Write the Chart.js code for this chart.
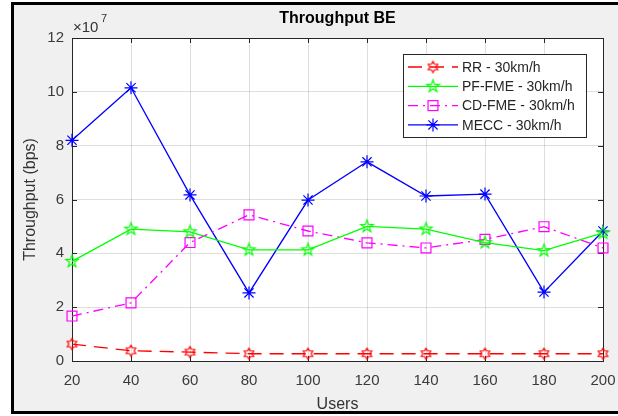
<!DOCTYPE html>
<html>
<head>
<meta charset="utf-8">
<script src="https://cdn.jsdelivr.net/npm/chart.js@4/dist/chart.umd.min.js"></script>
<style>
  html, body { margin: 0; padding: 0; background: #fff; }
</style>
</head>
<body>
<canvas id="chart" width="618" height="416"></canvas>
<script>
// users on the x axis
const users = [20, 40, 60, 80, 100, 120, 140, 160, 180, 200];

// throughput in bps
const rrData   = [6.3e6, 3.8e6, 3.3e6, 2.7e6, 2.7e6, 2.7e6, 2.7e6, 2.7e6, 2.7e6, 2.7e6];
const pfData   = [3.70e7, 4.90e7, 4.80e7, 4.13e7, 4.13e7, 5.00e7, 4.90e7, 4.40e7, 4.10e7, 4.76e7];
const cdData   = [1.67e7, 2.16e7, 4.40e7, 5.43e7, 4.83e7, 4.39e7, 4.20e7, 4.52e7, 4.99e7, 4.20e7];
const meccData = [8.20e7, 10.15e7, 6.17e7, 2.53e7, 5.98e7, 7.40e7, 6.13e7, 6.20e7, 2.56e7, 4.83e7];

const seriesNames = ['RR - 30km/h', 'PF-FME - 30km/h', 'CD-FME - 30km/h', 'MECC - 30km/h'];
const yTicks = [0, 2e7, 4e7, 6e7, 8e7, 10e7, 12e7];

const FONT = '"Liberation Sans", Arial, Helvetica, sans-serif';
const AXIS_COLOR = '#262626';

// outlined star markers (MATLAB hexagram / pentagram)
function starMarker(points, outer, inner, color) {
    const size = Math.ceil(outer * 2 + 4);
    const c = document.createElement('canvas');
    c.width = size;
    c.height = size;
    const g = c.getContext('2d');
    g.strokeStyle = color;
    g.lineWidth = 1.2;
    g.beginPath();
    for (let i = 0; i < points * 2; i++) {
        const r = i % 2 === 0 ? outer : inner;
        const a = -Math.PI / 2 + i * Math.PI / points;
        const x = size / 2 + r * Math.cos(a);
        const y = size / 2 + r * Math.sin(a);
        if (i === 0) g.moveTo(x, y); else g.lineTo(x, y);
    }
    g.closePath();
    g.stroke();
    return c;
}

const hexagram = starMarker(6, 5.5, 5.5 / Math.sqrt(3), '#ff0000');
const pentagram = starMarker(5, 6.5, 6.5 * 0.4, '#00ff00');

const framePlugin = {
    id: 'frame',
    beforeDraw(chart) {
        const { ctx, chartArea: a, width, height } = chart;
        ctx.save();
        ctx.fillStyle = '#ffffff';
        ctx.fillRect(0, 0, width, height);
        ctx.fillStyle = '#f0f0f0';
        ctx.fillRect(12, 3, width, 410);
        ctx.strokeStyle = '#000';
        ctx.lineWidth = 3;
        ctx.strokeRect(12.5, 3.5, width + 10, 409);
        ctx.fillStyle = '#ffffff';
        ctx.fillRect(a.left, a.top, a.right - a.left, a.bottom - a.top);
        ctx.restore();
    },
    beforeDatasetsDraw(chart) {
        const { ctx, chartArea: a, scales } = chart;
        ctx.save();
        ctx.strokeStyle = AXIS_COLOR;
        ctx.lineWidth = 1;
        ctx.strokeRect(Math.round(a.left) + 0.5, Math.round(a.top) + 0.5,
            Math.round(a.right - a.left), Math.round(a.bottom - a.top));
        ctx.beginPath();
        const tl = 5;
        users.forEach(u => {
            const x = Math.round(scales.x.getPixelForValue(u)) + 0.5;
            ctx.moveTo(x, a.bottom); ctx.lineTo(x, a.bottom - tl);
            ctx.moveTo(x, a.top); ctx.lineTo(x, a.top + tl);
        });
        yTicks.forEach(v => {
            const y = Math.round(scales.y.getPixelForValue(v)) + 0.5;
            ctx.moveTo(a.left, y); ctx.lineTo(a.left + tl, y);
            ctx.moveTo(a.right, y); ctx.lineTo(a.right - tl, y);
        });
        ctx.stroke();
        ctx.restore();
    },
    afterDatasetsDraw(chart) {
        const { ctx } = chart;
        const box = { x: 403.5, y: 54.5, w: 183, h: 83 };
        ctx.save();
        ctx.fillStyle = '#fff';
        ctx.fillRect(box.x, box.y, box.w, box.h);
        ctx.strokeStyle = AXIS_COLOR;
        ctx.lineWidth = 1;
        ctx.strokeRect(box.x, box.y, box.w, box.h);
        chart.data.datasets.forEach((ds, i) => {
            const y = 67 + i * 19.3;
            ctx.strokeStyle = ds.borderColor;
            ctx.lineWidth = ds.borderWidth;
            ctx.setLineDash(ds.borderDash || []);
            ctx.beginPath();
            ctx.moveTo(408, y);
            ctx.lineTo(458, y);
            ctx.stroke();
            ctx.setLineDash([]);
            drawMarker(ctx, ds, 433, y);
            ctx.fillStyle = AXIS_COLOR;
            ctx.font = '14px ' + FONT;
            ctx.textBaseline = 'middle';
            ctx.textAlign = 'left';
            ctx.fillText(ds.label, 462, y + 1);
        });
        ctx.restore();
    },
    afterDraw(chart) {
        const { ctx } = chart;
        ctx.save();
        ctx.fillStyle = '#333';
        ctx.textBaseline = 'alphabetic';
        ctx.textAlign = 'left';
        ctx.font = '15px ' + FONT;
        ctx.fillText('\u00d710', 73, 32);
        ctx.font = '11px ' + FONT;
        ctx.fillText('7', 101, 22);
        ctx.restore();
    }
};

function drawMarker(ctx, ds, x, y) {
    const style = ds.pointStyle;
    const r = ds.pointRadius;
    ctx.strokeStyle = ds.pointBorderColor;
    ctx.lineWidth = ds.pointBorderWidth;
    if (style instanceof HTMLCanvasElement) {
        ctx.drawImage(style, x - style.width / 2, y - style.height / 2);
    } else if (style === 'rect') {
        const s = r * Math.SQRT1_2;
        ctx.strokeRect(x - s, y - s, 2 * s, 2 * s);
    } else if (style === 'star') {
        ctx.beginPath();
        for (let k = 0; k < 4; k++) {
            const a = k * Math.PI / 4;
            ctx.moveTo(x - r * Math.cos(a), y - r * Math.sin(a));
            ctx.lineTo(x + r * Math.cos(a), y + r * Math.sin(a));
        }
        ctx.stroke();
    }
}

function series(label, data, color, style, radius, dash) {
    return {
        label: label,
        data: users.map((u, i) => ({ x: u, y: data[i] })),
        borderColor: color,
        borderWidth: 1.3,
        borderDash: dash,
        pointStyle: style,
        pointRadius: radius,
        pointHoverRadius: radius,
        pointBorderColor: color,
        pointBackgroundColor: 'rgba(0,0,0,0)',
        pointBorderWidth: 1.2,
        tension: 0,
        clip: false,
    };
}

new Chart(document.getElementById('chart'), {
    type: 'line',
    data: {
        datasets: [
            series(seriesNames[0], rrData, '#ff0000', hexagram, 6, [14, 8]),
            series(seriesNames[1], pfData, '#00ff00', pentagram, 7, []),
            series(seriesNames[2], cdData, '#ff00ff', 'rect', 7, [10, 5, 2, 5]),
            series(seriesNames[3], meccData, '#0000ff', 'star', 6.5, []),
        ],
    },
    options: {
        responsive: false,
        animation: false,
        layout: { padding: { left: 0, right: 15, top: 0, bottom: 0 } },
        plugins: {
            legend: { display: false },
            tooltip: { enabled: false },
            title: {
                display: true,
                fullSize: false,
                text: 'Throughput BE',
                color: '#000',
                font: { family: FONT, size: 16, weight: 'bold' },
                padding: { top: 9, bottom: 9.8 },
            },
        },
        scales: {
            x: {
                type: 'linear',
                min: 20,
                max: 200,
                afterFit: (scale) => {
                    scale.height = 55;
                    scale.paddingLeft = 0;
                    scale.paddingRight = 0;
                },
                ticks: {
                    stepSize: 20,
                    color: '#3a3a3a',
                    padding: 11,
                    maxRotation: 0,
                    font: { family: FONT, size: 15 },
                },
                grid: { color: 'rgba(0,0,0,0.13)', drawTicks: false },
                border: { display: false },
                title: {
                    display: true,
                    text: 'Users',
                    color: '#333',
                    font: { family: FONT, size: 16 },
                    padding: { top: 0, bottom: 1.5 },
                },
            },
            y: {
                min: 0,
                max: 12e7,
                afterFit: (scale) => {
                    scale.width = 72;
                    scale.paddingTop = 0;
                    scale.paddingBottom = 0;
                },
                ticks: {
                    stepSize: 2e7,
                    color: '#3a3a3a',
                    padding: 8,
                    font: { family: FONT, size: 15 },
                    callback: (value) => value / 1e7,
                },
                grid: { color: 'rgba(0,0,0,0.13)', drawTicks: false },
                border: { display: false },
                title: {
                    display: true,
                    text: 'Throughput (bps)',
                    color: '#333',
                    font: { family: FONT, size: 16 },
                    padding: { top: 21, bottom: 0 },
                },
            },
        },
    },
    plugins: [framePlugin],
});
</script>
</body>
</html>
